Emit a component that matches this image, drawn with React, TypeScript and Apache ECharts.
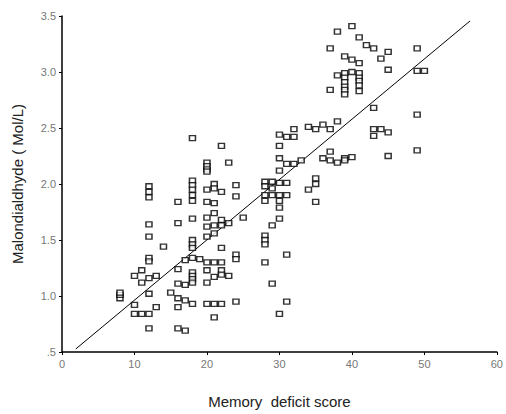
import React, { useEffect, useRef } from "react";
import * as echarts from "echarts";

// Memory deficit score (x) and malondialdehyde (y) readings, grouped by score
const scores = [8, 10, 11, 12, 13, 14, 15, 16, 17, 18, 19, 20, 21, 22, 23, 24, 25, 28, 29, 30, 31, 32, 33, 34, 35, 36, 37, 38, 39, 40, 41, 42, 43, 44, 45, 49, 50];
const mdaByScore: number[][] = [
  [0.98, 1.01, 1.03],
  [1.18, 0.92, 0.84],
  [1.23, 1.12, 0.84],
  [1.98, 1.93, 1.88, 1.64, 1.53, 1.34, 1.31, 1.16, 1.02, 0.84, 0.71],
  [1.18, 0.9],
  [1.44],
  [1.03],
  [1.84, 1.65, 1.24, 1.11, 0.98, 0.9, 0.71],
  [1.32, 1.1, 0.96, 0.69],
  [2.41, 2.03, 1.99, 1.95, 1.9, 1.85, 1.69, 1.5, 1.46, 1.43, 1.34, 1.21, 1.18, 1.15, 1.12, 0.93],
  [1.33],
  [2.19, 2.16, 2.13, 2.11, 1.95, 1.84, 1.7, 1.62, 1.53, 1.3, 1.23, 1.12, 0.93],
  [2.0, 1.96, 1.83, 1.74, 1.63, 1.56, 1.3, 1.17, 0.93, 0.81],
  [2.34, 1.93, 1.68, 1.63, 1.43, 1.3, 1.23, 1.19, 0.93],
  [2.19, 1.65, 1.18],
  [1.99, 1.89, 1.37, 1.33, 0.95],
  [1.7],
  [2.02, 1.98, 1.9, 1.85, 1.54, 1.5, 1.46, 1.3],
  [2.02, 1.96, 1.9, 1.63, 1.11],
  [2.44, 2.34, 2.23, 2.12, 2.01, 1.9, 1.85, 1.79, 1.69, 0.84],
  [2.42, 2.18, 2.01, 1.9, 1.37, 0.95],
  [2.49, 2.42, 2.18],
  [2.21],
  [2.51, 1.95],
  [2.49, 2.05, 2.0, 1.84],
  [2.53, 2.23],
  [3.21, 2.84, 2.49, 2.29, 2.21],
  [3.36, 2.97, 2.56, 2.19],
  [3.14, 2.99, 2.95, 2.91, 2.87, 2.84, 2.8, 2.23, 2.21],
  [3.41, 3.11, 3.0, 2.24],
  [3.31, 3.08, 2.99, 2.95, 2.92, 2.88, 2.83],
  [3.24],
  [3.21, 2.68, 2.49, 2.43],
  [3.12, 2.49],
  [3.18, 3.02, 2.46, 2.25],
  [3.21, 3.01, 2.62, 2.3],
  [3.01],
];

// Fitted regression line end points
const fitX = [1.9, 56.3];
const fitY = [0.527, 3.456];

const xTicks = [0, 10, 20, 30, 40, 50, 60];
const yTicks = [0.5, 1.0, 1.5, 2.0, 2.5, 3.0, 3.5];

export default function App() {
  const ref = useRef<HTMLDivElement>(null);
  useEffect(() => {
    if (!ref.current) return;
    const chart = echarts.init(ref.current, null, { renderer: "svg" });
    const points: number[][] = [];
    scores.forEach((s, i) => mdaByScore[i].forEach((v) => points.push([s, v])));
    const font = "Liberation Sans, Arial, sans-serif";
    chart.setOption({
      animation: false,
      backgroundColor: "#ffffff",
      grid: { left: 62, right: 5, top: 16, bottom: 59, containLabel: false },
      xAxis: {
        type: "value",
        min: xTicks[0],
        max: xTicks[xTicks.length - 1],
        interval: 10,
        name: "Memory  deficit score",
        nameLocation: "middle",
        nameGap: 42,
        nameTextStyle: { fontFamily: font, fontSize: 15, color: "#222" },
        axisLine: { show: true, lineStyle: { color: "#000", width: 1.5 } },
        axisTick: { show: true, length: 3, lineStyle: { color: "#000" } },
        axisLabel: {
          fontFamily: font,
          fontSize: 11,
          color: "#777",
          margin: 6,
          alignMaxLabel: "center",
          alignMinLabel: "center",
          hideOverlap: false,
        },
        splitLine: { show: false },
      },
      yAxis: {
        type: "value",
        min: yTicks[0],
        max: yTicks[yTicks.length - 1],
        interval: 0.5,
        name: "Malondialdhyde ( Mol/L)",
        nameLocation: "middle",
        nameGap: 37,
        nameRotate: 90,
        nameTextStyle: { fontFamily: font, fontSize: 15, color: "#222" },
        axisLine: { show: true, lineStyle: { color: "#000", width: 1.5 } },
        axisTick: { show: true, length: 3, lineStyle: { color: "#000" } },
        axisLabel: {
          fontFamily: font,
          fontSize: 11,
          color: "#777",
          margin: 6,
          formatter: (v: number) => (v < 1 ? v.toFixed(1).replace(/^0/, "") : v.toFixed(1)),
        },
        splitLine: { show: false },
      },
      series: [
        {
          type: "line",
          data: [
            [fitX[0], fitY[0]],
            [fitX[1], fitY[1]],
          ],
          symbol: "none",
          lineStyle: { color: "#000", width: 1 },
          silent: true,
          z: 1,
        },
        {
          type: "scatter",
          data: points,
          symbol: "rect",
          symbolSize: [6, 5],
          itemStyle: { color: "#fff", borderColor: "#000", borderWidth: 1.4 },
          z: 2,
        },
      ],
    });
    return () => chart.dispose();
  }, []);
  return (
    <div
      ref={ref}
      style={{ position: "fixed", left: 0, top: 0, width: 506, height: 414, background: "#fff" }}
    />
  );
}
